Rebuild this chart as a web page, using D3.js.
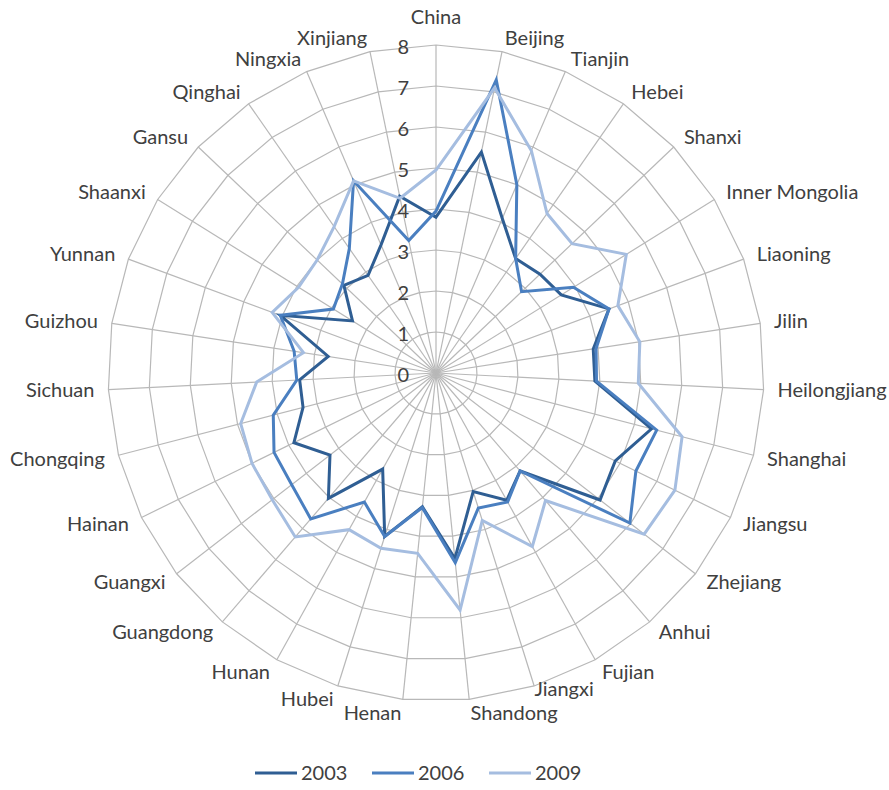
<!DOCTYPE html>
<html>
<head>
<meta charset="utf-8">
<script src="https://cdn.jsdelivr.net/npm/d3@7"></script>
<style>
    body { margin: 0; background: #fff; }
    text { font-family: Lato, sans-serif; fill: #404040; }
    .grid-line { fill: none; stroke: #b8b8b8; stroke-width: 1.2; }
    .series { fill: none; stroke-width: 3; stroke-linejoin: miter; }
</style>
</head>
<body>
<svg id="plotarea"></svg>
<script>
const provinces = ['China', 'Beijing', 'Tianjin', 'Hebei', 'Shanxi', 'Inner Mongolia',
    'Liaoning', 'Jilin', 'Heilongjiang', 'Shanghai', 'Jiangsu', 'Zhejiang', 'Anhui',
    'Fujian', 'Jiangxi', 'Shandong', 'Henan', 'Hubei', 'Hunan', 'Guangdong', 'Guangxi',
    'Hainan', 'Chongqing', 'Sichuan', 'Guizhou', 'Yunnan', 'Shaanxi', 'Gansu',
    'Qinghai', 'Ningxia', 'Xinjiang'];

const years = ['2003', '2006', '2009'];

const values2003 = [3.8, 5.5, 4.1, 3.4, 3.5, 3.6, 4.5, 3.88, 3.88, 5.43, 4.87, 5.06, 3.15,
    3.55, 3.03, 4.55, 3.28, 4.18, 2.68, 4.03, 3.27, 3.86, 3.35, 3.33, 2.66, 4.05, 2.4,
    3.1, 2.9, 3.4, 4.4];

const values2006 = [3.95, 7.3, 5.0, 3.4, 2.88, 3.95, 4.5, 3.95, 3.92, 5.56, 5.43, 5.98, 3.15,
    3.6, 3.45, 4.65, 3.3, 4.18, 3.6, 4.69, 4.45, 4.4, 4.1, 3.4, 3.5, 4.05, 2.95,
    3.15, 3.7, 5.1, 3.3];

const values2009 = [4.95, 7.1, 5.9, 4.74, 4.58, 5.47, 4.73, 5.03, 4.94, 6.2, 6.49, 6.42, 4.1,
    4.84, 3.77, 5.81, 4.42, 4.48, 4.37, 5.27, 5.05, 5.0, 4.92, 4.38, 3.27, 4.26, 3.95,
    4.0, 4.35, 5.1, 4.35];

const ticks = [0, 1, 2, 3, 4, 5, 6, 7, 8];

const colors = ['#2f5e93', '#4a7fc0', '#a5bde0'];

const dims = {
    width: 889,
    height: 790,
}

const center = { x: 436, y: 373 };
const radius = 328;

function init() {
    var svg = d3.select('#plotarea')
                .attr('width', dims.width)
                .attr('height', dims.height);

    var g = svg.append('g')
               .attr('transform', `translate(${center.x}, ${center.y})`);

    // angle for each province, clockwise from top
    var angle = d3.scaleLinear()
                  .domain([0, provinces.length])
                  .range([0, 2 * Math.PI]);

    var r = d3.scaleLinear()
              .domain([0, 8])
              .range([0, radius]);

    function point(i, v) {
        return [r(v) * Math.sin(angle(i)), -r(v) * Math.cos(angle(i))];
    }

    // polygon rings
    ticks.slice(1).forEach(function(t) {
        g.append('path')
         .attr('class', 'grid-line')
         .attr('d', d3.line()(provinces.map((p, i) => point(i, t))) + 'Z');
    });

    // spokes
    g.selectAll('line.spoke')
     .data(provinces)
     .enter()
     .append('line')
     .attr('class', 'grid-line')
     .attr('x1', 0)
     .attr('y1', 0)
     .attr('x2', (d, i) => point(i, 8)[0])
     .attr('y2', (d, i) => point(i, 8)[1]);

    // series lines
    var series = [values2003, values2006, values2009];
    var radarLine = d3.lineRadial()
                      .angle((d, i) => angle(i))
                      .radius(d => r(d))
                      .curve(d3.curveLinearClosed);

    series.forEach(function(s, k) {
        g.append('path')
         .attr('class', 'series')
         .attr('stroke', colors[k])
         .attr('d', radarLine(s));
    });

    // value axis labels
    g.selectAll('text.tick')
     .data(ticks)
     .enter()
     .append('text')
     .attr('class', 'tick')
     .attr('x', -27)
     .attr('y', d => -r(d) + 2)
     .attr('dy', '0.35em')
     .style('text-anchor', 'end')
     .style('font-size', '20px')
     .text(d => d);

    // category labels
    var pad = 14;
    // Jiangxi sits a bit higher so it clears Shandong
    var nudge = { 'Jiangxi': [-4, -10] };
    g.selectAll('text.cat')
     .data(provinces)
     .enter()
     .append('text')
     .attr('class', 'cat')
     .attr('x', function(d, i) {
         var x = (radius + pad) * Math.sin(angle(i));
         if (nudge[d]) x += nudge[d][0];
         return x;
     })
     .attr('y', function(d, i) {
         var y = -(radius + pad) * Math.cos(angle(i));
         if (Math.abs(Math.sin(angle(i))) < 0.05) y -= 14;
         if (nudge[d]) y += nudge[d][1];
         return y;
     })
     .attr('dy', '0.35em')
     .style('font-size', '20px')
     .style('text-anchor', function(d, i) {
         var s = Math.sin(angle(i));
         if (Math.abs(s) < 0.05) return 'middle';
         return s > 0 ? 'start' : 'end';
     })
     .text(d => d);

    // legend
    var legend = svg.append('g')
                    .attr('transform', 'translate(255, 773)');

    var item = legend.selectAll('g')
                     .data(years)
                     .enter()
                     .append('g')
                     .attr('transform', (d, i) => `translate(${i * 117}, 0)`);

    item.append('line')
        .attr('x1', 0)
        .attr('x2', 42)
        .attr('y1', 0)
        .attr('y2', 0)
        .attr('stroke', (d, i) => colors[i])
        .attr('stroke-width', 3);

    item.append('text')
        .attr('x', 46)
        .attr('y', 0)
        .attr('dy', '0.35em')
        .style('font-size', '20px')
        .text(d => d);
}

init();
</script>
</body>
</html>
